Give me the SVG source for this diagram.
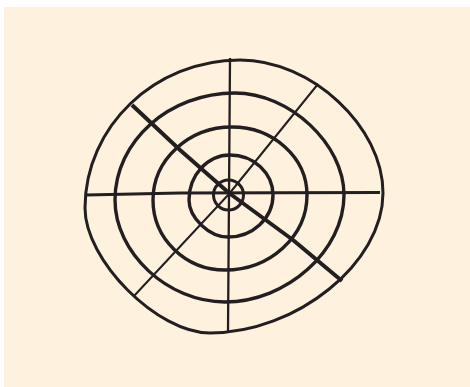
<svg xmlns="http://www.w3.org/2000/svg" width="470" height="387" viewBox="0 0 470 387">
<style>
.ring{fill:none;stroke:#231f20;stroke-linecap:round;stroke-linejoin:round}
.spoke{fill:none;stroke:#231f20;stroke-linecap:butt;stroke-linejoin:round}
</style>
<rect x="0" y="0" width="470" height="387" fill="#ffffff"/>
<rect x="4" y="7" width="466" height="380" fill="#fef1de"/>
<g id="rings">
<path id="ring1" class="ring" stroke-width="3" d="M240,60 C311.5,60 383,126.5 383,193 C383,263 296.5,333 210,333 C157.5,333 85,260.5 85,208 C85,126.6 154.75,60 240,60 Z"/>
<path id="ring2" class="ring" stroke-width="3.4" d="M235,93 C289.5,93 344,144 344,195 C344,250.6 286.9,302 225,302 C167.8,302 115,253 115,200 C115,141.2 169,93 235,93 Z"/>
<path id="ring3" class="ring" stroke-width="3.4" d="M232,127 C273.25,127 307,157.6 307,195 C307,236.25 270.1,270 225,270 C185.4,270 153,238.5 153,200 C153,159.85 188.55,127 232,127 Z"/>
<path id="ring4" class="ring" stroke-width="3.4" d="M230,155 C253.65,155 273,173 273,195 C273,218.1 252.75,237 228,237 C209.3,237 189,217.8 189,200 C189,175.25 207.45,155 230,155 Z"/>
<ellipse id="ring5" class="ring" stroke-width="3" cx="228.5" cy="195" rx="15" ry="15"/>
</g>
<g id="spokes">
<path class="spoke" stroke-width="2.3" d="M230,58 L229,195 L228,331"/>
<path class="spoke" stroke-width="2.8" d="M86,195 L180,193 L380,192.5"/>
<path class="spoke" stroke-width="4" d="M132,105 L180,150 L229,193 L293,240 L342,281"/>
<path class="spoke" stroke-width="2" d="M318,84 L229,194 L134,296"/>
</g>
</svg>
